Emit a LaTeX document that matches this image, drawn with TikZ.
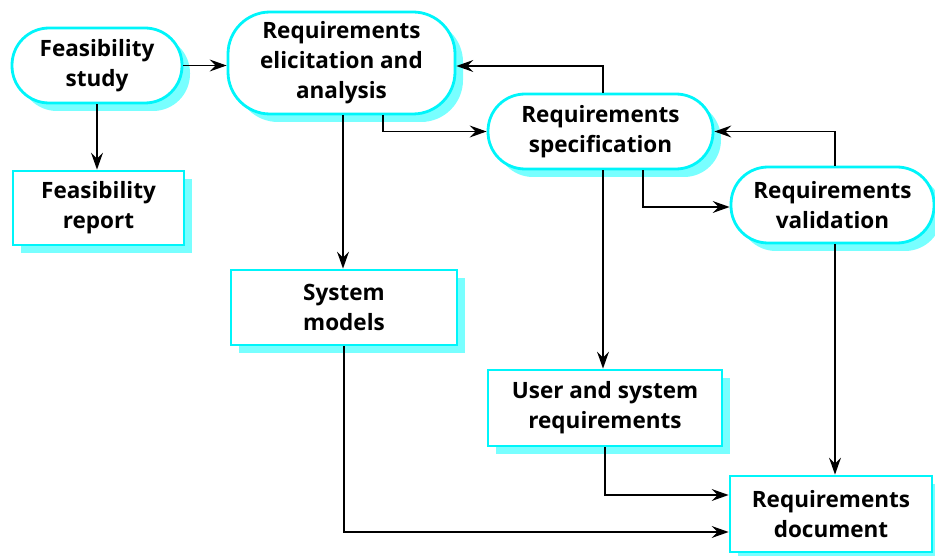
\documentclass[tikz,border=0pt]{standalone}
\usepackage{fontspec}
\setmainfont{Open Sans}
\usetikzlibrary{arrows.meta,shadows,calc}
\definecolor{bordc}{RGB}{0,245,250}
\definecolor{shadc}{RGB}{120,255,255}
\tikzset{
  boxbase/.style={draw=bordc, line width=2.8pt, fill=white, align=center,
    font=\fontsize{22.5}{30}\selectfont\bfseries, inner sep=0pt,
    drop shadow={shadow xshift=8pt, shadow yshift=-8pt, fill=shadc, opacity=1}},
  procbox/.style={boxbase, rounded corners=37pt},
  docbox/.style={boxbase},
  arr/.style={draw=black, line width=1.3pt, -{Stealth[length=17pt,width=12pt,inset=6pt]}}
}
\begin{document}
\begin{tikzpicture}[x=1pt,y=-1pt]
\useasboundingbox (0,0) rectangle (935,556);
\node[procbox, minimum width=170pt, minimum height=75pt] (FS) at (97,65.5) {Feasibility\\study};
\node[docbox, minimum width=171pt, minimum height=74pt] (FR) at (98.5,208) {Feasibility\\report};
\node[procbox, rounded corners=42pt, minimum width=227pt, minimum height=102pt] (REA) at (341.5,63) {Requirements\\elicitation and\\analysis};
\node[procbox, minimum width=225pt, minimum height=75pt] (RS) at (600.5,131.5) {Requirements\\specification};
\node[procbox, minimum width=203pt, minimum height=76pt] (RV) at (832.5,205) {Requirements\\validation};
\node[docbox, minimum width=226pt, minimum height=75pt] (SM) at (344,307.5) {System\\models};
\node[docbox, minimum width=234pt, minimum height=76pt] (USR) at (605,408) {User and system\\requirements};
\node[docbox, minimum width=202pt, minimum height=76pt] (RD) at (831,514) {Requirements\\document};

\draw[arr] (FS.east) -- (FS.east -| REA.west);
\draw[arr] (FS.south) -- (FS.south |- FR.north);
\draw[arr] ([xshift=1.5pt]REA.south) -- ([xshift=1.5pt]REA.south |- SM.north);
\draw[arr] ([xshift=41.5pt]REA.south) |- (RS.west);
\draw[arr] ([xshift=2.5pt]RS.north) |- ([yshift=-3pt]REA.east);
\draw[arr] ([xshift=42.5pt]RS.south) |- ([yshift=-2pt]RV.west);
\draw[arr] ([xshift=2.5pt]RV.north) |- (RS.east);
\draw[arr] ([xshift=2.5pt]RS.south) -- ([xshift=2.5pt]RS.south |- USR.north);
\draw[arr] ([xshift=2.5pt]RV.south) -- ([xshift=2.5pt]RV.south |- RD.north);
\draw[arr] (USR.south) |- ([yshift=19pt]RD.west);
\draw[arr] (SM.south) |- ([yshift=-18pt]RD.west);
\end{tikzpicture}
\end{document}
